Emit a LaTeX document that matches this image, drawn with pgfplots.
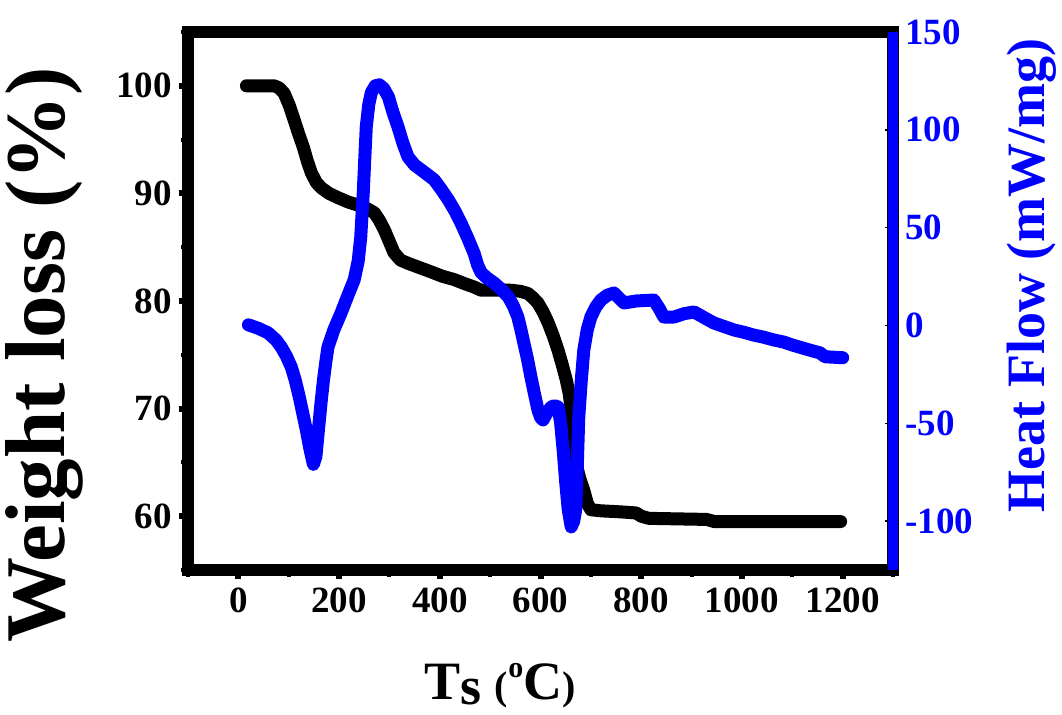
\documentclass[border=0pt]{standalone}
\usepackage{pgfplots}
\pgfplotsset{compat=1.18}
\usepackage{fontspec}
\setmainfont{Liberation Serif}
\pgfplotstableread{
x y
16 100.0
40 100.0
71 100.0
81 99.8
91 99.3
101 98.2
111 96.8
120 95.5
129 94.3
137 93.0
145 91.9
155 91.0
165 90.5
180 90.0
198 89.6
218 89.2
238 88.9
255 88.6
270 88.2
280 87.5
290 86.6
300 85.5
309 84.5
322 83.8
337 83.5
360 83.1
383 82.7
405 82.3
428 82.0
450 81.6
468 81.3
482 81.0
500 81.0
541 81.0
560 80.9
575 80.7
585 80.3
595 79.8
605 79.0
615 78.0
625 76.8
635 75.4
643 74.1
651 72.7
657 71.4
661 69.9
665 67.5
670 65.0
678 63.5
686 62.4
693 61.2
700 60.6
720 60.5
760 60.4
790 60.3
800 60.0
815 59.8
930 59.7
945 59.5
1196 59.5
}\weight
\pgfplotstableread{
x y
20 0.3
40 -1.5
59 -3.8
75 -7.5
85 -11
95 -15.5
105 -21.2
113 -28
121 -36.6
128 -45
135 -53.4
142 -63
149 -71
154 -67
159 -53.4
164 -40
169 -27.9
174 -18
178 -11
190 -2
204 6.4
217 15
230 23.3
238 33
243 45
248 67.7
251 85
254 101.5
259 113
264 119
272 122.5
280 123
289 121
298 116.8
307 109
317 101.5
327 93
337 86.1
350 82
363 79.5
376 77
389 74.4
403 69.5
417 64.2
430 58.5
442 52.4
455 45
468 37
475 31
482 27
495 24
508 21.7
522 18.5
536 14.6
546 10
555 4.3
561 -2
567 -9
574 -17
581 -26.3
588 -35
595 -43.2
600 -47
605 -48.3
612 -45
621 -41.7
628 -41
635 -41.7
640 -50
645 -63.7
650 -80
655 -94
661 -103
666 -100
670 -94
673 -72
676 -46.8
681 -28
686 -12.5
693 -2
700 4.3
710 9.5
720 13
733 15.5
746 16.6
756 14
766 11.5
790 12.5
825 13
835 9
845 4.3
865 4.3
885 6
905 6.9
925 4
944 1.3
964 -0.5
984 -2.3
1004 -3.5
1023 -4.9
1043 -6
1063 -7.4
1083 -8.5
1100 -10
1120 -11.5
1140 -13
1155 -14
1165 -16
1200 -16.5
}\heat
\begin{document}
\begin{tikzpicture}
\begin{axis}[
  scale only axis, width=705pt, height=538pt,
  xmin=-100, xmax=1300, ymin=55, ymax=105,
  xtick={0,200,...,1200}, minor xtick={-100,100,...,1300},
  ytick={60,70,...,100}, minor ytick={55,65,...,105},
  xtick pos=lower, ytick pos=left,
  tick align=outside,
  major tick length=9pt, minor tick length=7pt,
  every major tick/.style={black, line width=6pt},
  every minor tick/.style={black, line width=4pt},
  axis line style={line width=12pt},
  /pgf/number format/assume math mode=true,
  /pgf/number format/1000 sep={},
  tick label style={font=\fontsize{37}{40}\selectfont\bfseries, inner sep=0pt},
  xticklabel style={yshift=-9pt},
  yticklabel style={xshift=-7pt},
  ylabel={Weight loss (\%)},
  ylabel style={font=\fontsize{85}{90}\selectfont\bfseries, at={(axis description cs:-0.203,0.4)}, anchor=center},
  xlabel={T\raisebox{-5pt}{s} {\fontsize{40}{40}\selectfont(}\raisebox{22pt}{\fontsize{30}{30}\selectfont o}C{\fontsize{40}{40}\selectfont)}},
  xlabel style={font=\fontsize{54}{60}\selectfont\bfseries, at={(axis description cs:0.4426,0)}, anchor=base, yshift=-130pt},
  clip=false,
]
\coordinate (LL) at (rel axis cs:0,0);
\coordinate (UR) at (rel axis cs:1,1);
\addplot[black, line width=13pt, line join=round, line cap=round] table[x=x,y=y] {\weight};
\end{axis}
\begin{axis}[
  scale only axis, width=705pt, height=538pt,
  xmin=-100, xmax=1300, ymin=-125, ymax=150,
  axis x line=none, axis y line*=right,
  ytick={-100,-50,...,150}, minor ytick={-75,-25,...,125},
  tick align=inside,
  major tick length=8pt, minor tick length=6pt,
  every major tick/.style={black, line width=1.5pt},
  every minor tick/.style={black, line width=1.5pt},
  y axis line style={-, blue, line width=10pt},
  /pgf/number format/assume math mode=true,
  yticklabel style={font=\fontsize{37}{40}\selectfont\bfseries, blue, inner sep=0pt, xshift=12pt},
  ylabel={Heat Flow (mW/mg)},
  ylabel style={font=\fontsize{54}{56}\selectfont\bfseries, blue, at={(axis description cs:1.197,0.548)}, anchor=center, rotate=0},
  clip=false,
]
\addplot[blue, line width=13pt, line join=round, line cap=round] table[x=x,y=y] {\heat};
\end{axis}
\pgfresetboundingbox
\path[use as bounding box] ([xshift=-188pt,yshift=-145pt]LL) rectangle ([xshift=169pt,yshift=32pt]UR);
\end{tikzpicture}
\end{document}
